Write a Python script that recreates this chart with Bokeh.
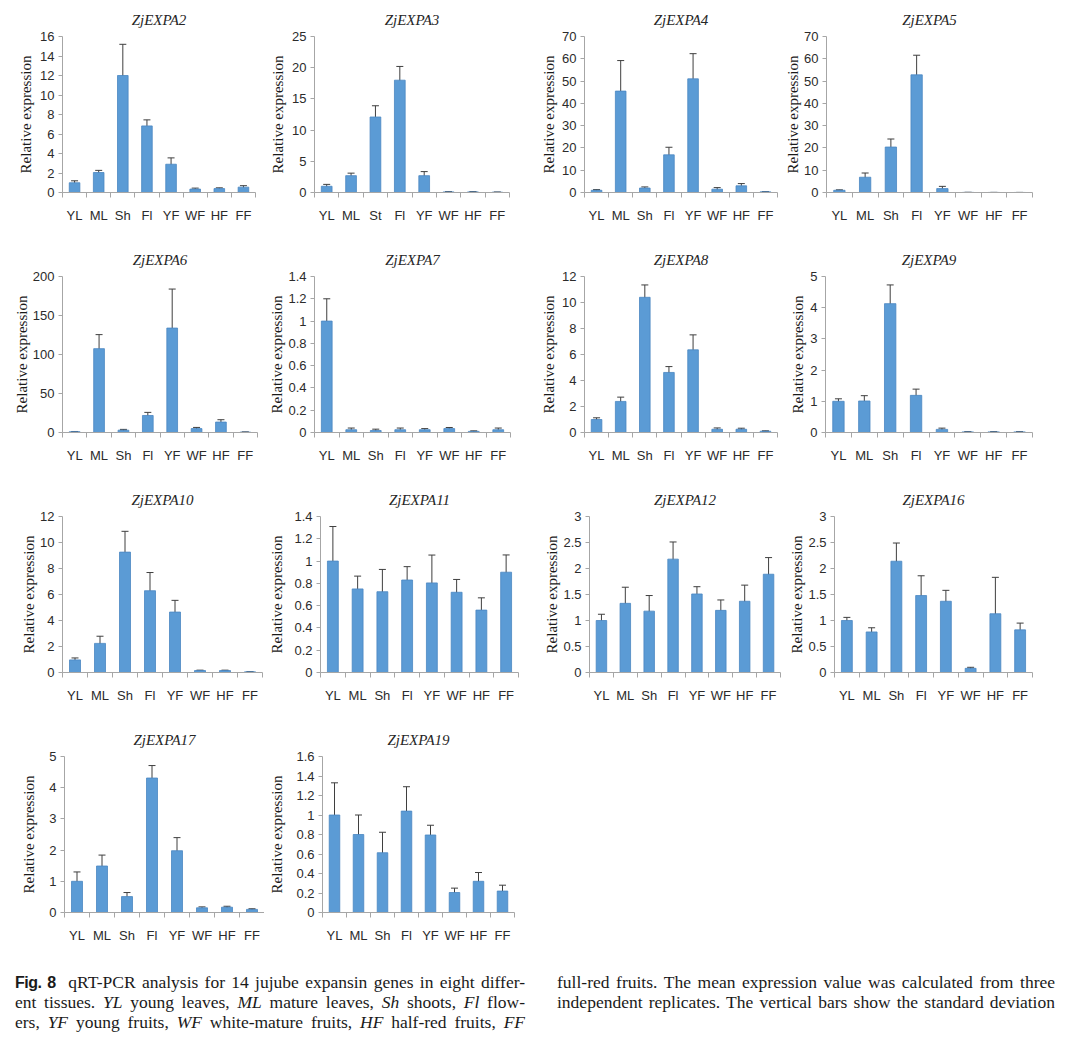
import numpy as np
from bokeh.plotting import figure
from bokeh.models import (ColumnDataSource, FixedTicker, Whisker, TeeHead, Div, Range1d)
from bokeh.layouts import row, column
from bokeh.embed import file_html
from bokeh.resources import INLINE

# ---------------- data ----------------
tissues = ["YL", "ML", "Sh", "Fl", "YF", "WF", "HF", "FF"]
tissues_expa3 = ["YL", "ML", "St", "Fl", "YF", "WF", "HF", "FF"]

genes = ["ZjEXPA2", "ZjEXPA3", "ZjEXPA4", "ZjEXPA5",
         "ZjEXPA6", "ZjEXPA7", "ZjEXPA8", "ZjEXPA9",
         "ZjEXPA10", "ZjEXPA11", "ZjEXPA12", "ZjEXPA16",
         "ZjEXPA17", "ZjEXPA19"]

expa2_mean = [1.0, 2.05, 12.0, 6.83, 2.9, 0.35, 0.4, 0.55]
expa2_sd = [0.2, 0.22, 3.2, 0.62, 0.65, 0.1, 0.08, 0.15]
expa3_mean = [1.0, 2.7, 12.1, 18.0, 2.7, 0.1, 0.1, 0.05]
expa3_sd = [0.3, 0.4, 1.8, 2.2, 0.65, 0.03, 0.03, 0.02]
expa4_mean = [1.0, 45.5, 2.0, 16.9, 51.0, 1.5, 3.0, 0.3]
expa4_sd = [0.3, 13.7, 0.5, 3.4, 11.3, 0.7, 1.0, 0.1]
expa5_mean = [1.0, 6.85, 20.4, 52.8, 1.75, 0.05, 0.03, 0.02]
expa5_sd = [0.2, 1.9, 3.6, 8.8, 1.0, 0.02, 0.01, 0.01]
expa6_mean = [1.0, 107.5, 3.0, 21.8, 133.9, 5.0, 13.4, 0.5]
expa6_sd = [0.3, 18.0, 1.0, 4.0, 50.0, 1.5, 3.0, 0.2]
expa7_mean = [1.0, 0.025, 0.018, 0.025, 0.025, 0.035, 0.01, 0.025]
expa7_sd = [0.2, 0.015, 0.012, 0.015, 0.01, 0.01, 0.005, 0.015]
expa8_mean = [1.0, 2.39, 10.4, 4.62, 6.36, 0.25, 0.25, 0.1]
expa8_sd = [0.13, 0.33, 0.95, 0.45, 1.15, 0.1, 0.08, 0.03]
expa9_mean = [1.0, 1.01, 4.13, 1.19, 0.1, 0.02, 0.02, 0.02]
expa9_sd = [0.08, 0.17, 0.6, 0.2, 0.04, 0.005, 0.005, 0.005]
expa10_mean = [0.97, 2.24, 9.26, 6.29, 4.65, 0.15, 0.15, 0.05]
expa10_sd = [0.15, 0.55, 1.6, 1.4, 0.9, 0.03, 0.03, 0.01]
expa11_mean = [1.0, 0.75, 0.725, 0.83, 0.804, 0.72, 0.56, 0.9]
expa11_sd = [0.31, 0.115, 0.2, 0.12, 0.25, 0.115, 0.11, 0.155]
expa12_mean = [1.0, 1.33, 1.18, 2.18, 1.51, 1.195, 1.37, 1.89]
expa12_sd = [0.12, 0.31, 0.3, 0.33, 0.14, 0.2, 0.31, 0.32]
expa16_mean = [1.0, 0.78, 2.14, 1.48, 1.37, 0.08, 1.13, 0.82]
expa16_sd = [0.06, 0.08, 0.35, 0.38, 0.21, 0.02, 0.7, 0.13]
expa17_mean = [1.0, 1.49, 0.51, 4.31, 1.98, 0.15, 0.17, 0.1]
expa17_sd = [0.3, 0.35, 0.13, 0.4, 0.42, 0.03, 0.03, 0.02]
expa19_mean = [1.0, 0.8, 0.613, 1.04, 0.795, 0.205, 0.32, 0.22]
expa19_sd = [0.33, 0.2, 0.21, 0.25, 0.1, 0.045, 0.09, 0.06]

means = [expa2_mean, expa3_mean, expa4_mean, expa5_mean, expa6_mean, expa7_mean,
         expa8_mean, expa9_mean, expa10_mean, expa11_mean, expa12_mean, expa16_mean,
         expa17_mean, expa19_mean]
sds = [expa2_sd, expa3_sd, expa4_sd, expa5_sd, expa6_sd, expa7_sd,
       expa8_sd, expa9_sd, expa10_sd, expa11_sd, expa12_sd, expa16_sd,
       expa17_sd, expa19_sd]
labels_per_gene = [tissues, tissues_expa3] + [tissues] * 12

# y-axis tick labels (max, step)
y_tick_max = [16, 25, 70, 70, 200, 1.4, 12, 5, 12, 1.4, 3, 3, 5, 1.6]
y_tick_step = [2, 5, 10, 10, 50, 0.2, 2, 1, 2, 0.2, 0.5, 0.5, 1, 0.2]

# ---------------- layout (pixels) ----------------
col_bounds = [8, 272, 545, 790, 1064]
frame_lr = [(70, 263), (322, 517), (592, 785), (830, 1040),
            (70, 265), (322, 518), (592, 785), (833, 1040),
            (70, 270), (328, 526), (597, 788), (842, 1040),
            (72, 273), (330, 522)]
ylabel_x = [30, 282, 553, 802, 30, 282, 553, 802, 33, 282, 557, 802, 33, 282]
title_x = [157, 413, 678, 935, 157, 415, 678, 935, 162, 415, 682, 933, 162, 413]

FIG_H = 240
BORDER_TOP = 33
BORDER_BOTTOM = 48

BAR_COLOR = "#5B9BD5"
BAR_EDGE = "#4A86C2"
AXIS_COLOR = "#A6A6A6"
ERR_COLOR = "#3F3F3F"
TICK_FONT = "Liberation Sans"
TICK_SIZE = 13
SERIF = "Liberation Serif"


def fmt(v):
    return f"{v:g}"


def est_width(s):
    return sum(7.2 if c.isdigit() else 3.6 for c in s)


def make_chart(i):
    col = i % 4
    cx0, cx1 = col_bounds[col], col_bounds[col + 1]
    L, R = frame_lr[i]
    cats = labels_per_gene[i]
    xs = [k + 0.5 for k in range(len(cats))]
    mean = means[i]
    sd = sds[i]
    src = ColumnDataSource(dict(
        x=xs, mean=mean,
        upper=[m + s for m, s in zip(mean, sd)],
        lower=[m - s for m, s in zip(mean, sd)],
    ))
    ymax = y_tick_max[i]
    yticks = [round(v, 6) for v in np.arange(0, ymax + y_tick_step[i] / 2, y_tick_step[i])]

    p = figure(width=cx1 - cx0, height=FIG_H,
               x_range=Range1d(0, len(cats)), y_range=Range1d(0, ymax),
               output_backend="svg", toolbar_location=None,
               min_border_left=L - cx0, min_border_right=cx1 - R,
               min_border_top=BORDER_TOP, min_border_bottom=BORDER_BOTTOM,
               title=genes[i])
    p.outline_line_color = None
    p.grid.visible = False
    p.background_fill_color = "white"
    p.border_fill_color = "white"

    p.title.text_font = SERIF
    p.title.text_font_style = "italic"
    p.title.text_font_size = "15px"
    p.title.text_color = "#262626"
    p.title.align = "center"
    p.title.offset = title_x[i] - (L + R) / 2
    p.title.standoff = 18

    p.vbar(x="x", top="mean", width=0.44, source=src,
           fill_color=BAR_COLOR, line_color=BAR_EDGE, line_width=0.8)
    w = Whisker(base="x", upper="upper", lower="lower", source=src,
                line_color=ERR_COLOR, line_width=1,
                upper_head=TeeHead(size=7, line_color=ERR_COLOR, line_width=1),
                lower_head=TeeHead(size=7, line_color=ERR_COLOR, line_width=1))
    p.add_layout(w)

    xa = p.xaxis[0]
    xa.ticker = FixedTicker(ticks=xs, minor_ticks=list(range(len(cats) + 1)))
    xa.major_label_overrides = {x: c for x, c in zip(xs, cats)}
    xa.major_tick_line_color = None
    xa.major_tick_out = 0
    xa.major_tick_in = 0
    xa.minor_tick_line_color = AXIS_COLOR
    xa.minor_tick_out = 5
    xa.minor_tick_in = 0
    xa.axis_line_color = AXIS_COLOR
    xa.major_label_text_font = TICK_FONT
    xa.major_label_text_font_size = f"{TICK_SIZE}px"
    xa.major_label_text_color = "#2b2b2b"
    xa.major_label_standoff = 10

    ya = p.yaxis[0]
    ya.ticker = FixedTicker(ticks=yticks, minor_ticks=[])
    ya.major_label_overrides = {v: fmt(v) for v in yticks}
    ya.major_tick_out = 4
    ya.major_tick_in = 0
    ya.major_tick_line_color = AXIS_COLOR
    ya.minor_tick_line_color = None
    ya.axis_line_color = AXIS_COLOR
    ya.major_label_text_font = TICK_FONT
    ya.major_label_text_font_size = f"{TICK_SIZE}px"
    ya.major_label_text_color = "#2b2b2b"
    ya.major_label_standoff = 4
    ya.axis_label = "Relative expression"
    ya.axis_label_text_font = SERIF
    ya.axis_label_text_font_style = "normal"
    ya.axis_label_text_font_size = "15px"
    ya.axis_label_text_color = "#1a1a1a"
    widest = max(est_width(fmt(v)) for v in yticks)
    standoff = L - ylabel_x[i] - 4 - 4 - widest - 8.5 - 6
    ya.axis_label_standoff = int(max(0, round(standoff)))
    return p


charts = [make_chart(i) for i in range(len(genes))]
rows = [row(*charts[k:k + 4]) for k in range(0, len(charts), 4)]

line_style = ("text-align:justify;text-align-last:justify;height:20px;white-space:nowrap;")
caption_left = [
    "<span style=\"font-family:'Liberation Sans';font-weight:bold;font-size:16px;letter-spacing:-0.5px\">Fig.&nbsp;8</span>&nbsp; qRT-PCR analysis for 14 jujube expansin genes in eight differ-",
    "ent tissues. <i>YL</i> young leaves, <i>ML</i> mature leaves, <i>Sh</i> shoots, <i>Fl</i> flow-",
    "ers, <i>YF</i> young fruits, <i>WF</i> white-mature fruits, <i>HF</i> half-red fruits, <i>FF</i>",
]
caption_right = [
    "full-red fruits. The mean expression value was calculated from three",
    "independent replicates. The vertical bars show the standard deviation",
]
left_html = "".join(f"<div style=\"{line_style}\">{t}</div>" for t in caption_left)
right_html = "".join(f"<div style=\"{line_style}\">{t}</div>" for t in caption_right)
html = (
    "<div style=\"position:relative;width:1064px;height:72px;font-family:'Liberation Serif';"
    "font-size:17.5px;line-height:20px;color:#1a1a1a;\">"
    f"<div style=\"position:absolute;left:10px;top:7px;width:510px;\">{left_html}</div>"
    f"<div style=\"position:absolute;left:552px;top:7px;width:498px;\">{right_html}</div>"
    "</div>"
)
caption = Div(text=html, width=1064, height=72)

layout = column(*rows, caption)
open("out.html", "w").write(file_html(layout, INLINE))
